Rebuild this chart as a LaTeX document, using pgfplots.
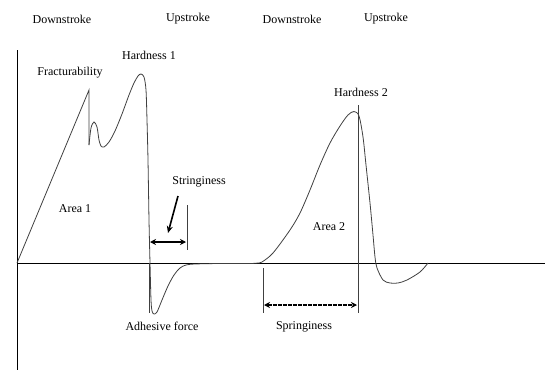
\documentclass[border=0pt]{standalone}
\usepackage{fontspec}
\setmainfont{Liberation Serif}
\usepackage{pgfplots}
\pgfplotsset{compat=1.18}
\usetikzlibrary{arrows.meta}
\begin{document}
\fontsize{12}{14}\selectfont
\begin{tikzpicture}
\begin{axis}[
  width=557pt, height=388pt, scale only axis,
  xmin=0, xmax=557, ymin=0, ymax=388, y dir=reverse,
  hide axis, clip=false,
  every node/.style={font=\fontsize{12}{14}\selectfont, text=black!85},
]
% bounding
\addplot[draw=none] coordinates {(0,0) (557,388)};
% axes
\addplot[black, line width=0.9pt] coordinates {(17,50) (17,370)};
\addplot[black, line width=0.9pt] coordinates {(17,263) (545,263)};
% first compression
\addplot[black!75, line width=0.8pt] coordinates {(17,263) (89,90) (89,145)};
\addplot[black!75, line width=0.8pt, smooth, tension=0.5] coordinates {
 (89,145) (91,128) (94,122) (97,127) (99,140) (101,146) (104,147) (109,142) (115,131)
 (122,114) (129,95) (134,83) (138,76) (141,74) (144,77) (146,90) (147,120) (148,160) (149,220)
 (150,263) (151,300) (152,311) (154,314) (157,312) (162,300) (168,286) (174,275)
 (180,268) (186,265) (195,264) (220,263.5) (250,263.5) (258,263)};
% second compression
\addplot[black!75, line width=0.8pt, smooth, tension=0.5] coordinates {
 (258,263) (262,262) (273,253) (290,230) (300,213) (310,190) (320,165) (330,143) (340,126)
 (348,115) (354,111.5) (359,116) (363,137) (366,165) (370,203) (373,235) (375,257)
 (377,268) (383,280) (390,283) (398,283) (407,280) (420,272) (428,263)};
% vertical markers
\addplot[black!75, line width=0.8pt] coordinates {(149,263) (149,313)};
\addplot[black!75, line width=0.8pt] coordinates {(187,205) (187,250)};
\addplot[black!75, line width=0.8pt] coordinates {(358,105) (358,313)};
\addplot[black!75, line width=0.8pt] coordinates {(263,268) (263,313)};
% arrows
\addplot[black, line width=1.6pt, {Stealth[length=6pt,width=6pt]}-{Stealth[length=6pt,width=6pt]}] coordinates {(150,242) (186,242)};
\addplot[black, line width=1.6pt, -{Stealth[length=7pt,width=6pt]}] coordinates {(178,196) (168,233)};
\addplot[black, line width=1.4pt, dash pattern=on 4pt off 1pt, {Stealth[length=6pt,width=6pt]}-{Stealth[length=6pt,width=6pt]}] coordinates {(264,305) (357,305)};
% labels
\node at (axis cs:62,19) {Downstroke};
\node at (axis cs:188,19) {Upstroke};
\node at (axis cs:292,19) {Downstroke};
\node at (axis cs:386,19) {Upstroke};
\node at (axis cs:70,73) {Fracturability};
\node at (axis cs:149,55) {Hardness 1};
\node at (axis cs:199,182) {Stringiness};
\node at (axis cs:75,209) {Area 1};
\node at (axis cs:162,326) {Adhesive force};
\node at (axis cs:304,327) {Springiness};
\node at (axis cs:329,227) {Area 2};
\node at (axis cs:361,92) {Hardness 2};
\end{axis}
\end{tikzpicture}
\end{document}
